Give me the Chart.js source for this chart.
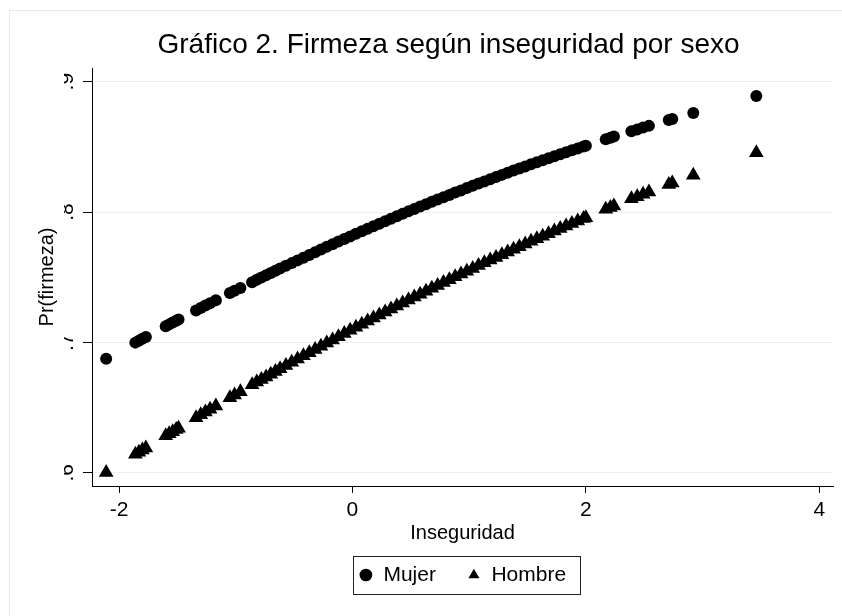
<!DOCTYPE html>
<html>
<head>
<meta charset="utf-8">
<title>Gráfico 2</title>
<script src="https://cdn.jsdelivr.net/npm/chart.js@4.4.1/dist/chart.umd.min.js"></script>
<style>
    html, body { margin: 0; padding: 0; background: #fff; }
    canvas { display: block; }
</style>
</head>
<body>
<canvas id="grafico" width="842" height="616"></canvas>
<script>
/***************************************************************
 * DATOS
 ***************************************************************/
const xInseguridad = [
    -2.11,
    -1.86, -1.83, -1.80, -1.77,
    -1.60, -1.57, -1.54, -1.51, -1.49,
    -1.34, -1.30, -1.26, -1.22, -1.17,
    -1.05, -1.01, -0.96,
    -0.86, -0.82, -0.78, -0.74, -0.70, -0.66, -0.62,
    -0.57, -0.52, -0.47, -0.42, -0.37, -0.32, -0.27, -0.22, -0.17, -0.12,
    -0.07, -0.02, 0.03, 0.08, 0.13, 0.18, 0.23, 0.28, 0.33, 0.38,
    0.43, 0.48, 0.53, 0.58, 0.63, 0.68, 0.73, 0.78, 0.83, 0.88,
    0.93, 0.98, 1.03, 1.08, 1.13, 1.18, 1.23, 1.28, 1.33, 1.38,
    1.43, 1.48, 1.53, 1.58, 1.63, 1.68, 1.73, 1.78, 1.83, 1.88,
    1.93, 1.98, 2.00,
    2.17, 2.21, 2.24,
    2.39, 2.44, 2.49, 2.54,
    2.71, 2.74,
    2.92,
    3.46
];

const prMujer = [
    0.6875,
    0.6998, 0.7013, 0.7027, 0.7042,
    0.7123, 0.7138, 0.7152, 0.7166, 0.7175,
    0.7245, 0.7264, 0.7282, 0.7301, 0.7323,
    0.7378, 0.7396, 0.7418,
    0.7462, 0.7480, 0.7497, 0.7514, 0.7532, 0.7549, 0.7566,
    0.7587, 0.7608, 0.7629, 0.7650, 0.7671, 0.7692, 0.7712, 0.7733, 0.7753, 0.7773,
    0.7793, 0.7813, 0.7833, 0.7853, 0.7872, 0.7891, 0.7910, 0.7930, 0.7949, 0.7967,
    0.7986, 0.8005, 0.8023, 0.8042, 0.8060, 0.8078, 0.8096, 0.8114, 0.8131, 0.8149,
    0.8166, 0.8184, 0.8201, 0.8218, 0.8235, 0.8252, 0.8268, 0.8285, 0.8301, 0.8318,
    0.8334, 0.8350, 0.8366, 0.8381, 0.8397, 0.8413, 0.8428, 0.8443, 0.8459, 0.8474,
    0.8488, 0.8503, 0.8509,
    0.8558, 0.8570, 0.8579,
    0.8620, 0.8634, 0.8648, 0.8661,
    0.8706, 0.8714,
    0.8760,
    0.8890
];

const prHombre = [
    0.6002,
    0.6141, 0.6157, 0.6174, 0.6190,
    0.6283, 0.6299, 0.6315, 0.6331, 0.6342,
    0.6422, 0.6444, 0.6465, 0.6486, 0.6512,
    0.6575, 0.6596, 0.6622,
    0.6674, 0.6695, 0.6715, 0.6735, 0.6756, 0.6776, 0.6797,
    0.6822, 0.6847, 0.6872, 0.6897, 0.6921, 0.6946, 0.6971, 0.6995, 0.7019, 0.7044,
    0.7068, 0.7092, 0.7116, 0.7139, 0.7163, 0.7186, 0.7210, 0.7233, 0.7256, 0.7279,
    0.7302, 0.7325, 0.7348, 0.7370, 0.7393, 0.7415, 0.7437, 0.7459, 0.7481, 0.7503,
    0.7524, 0.7546, 0.7567, 0.7589, 0.7610, 0.7631, 0.7652, 0.7673, 0.7693, 0.7714,
    0.7734, 0.7754, 0.7775, 0.7795, 0.7814, 0.7834, 0.7854, 0.7873, 0.7893, 0.7912,
    0.7931, 0.7950, 0.7957,
    0.8021, 0.8035, 0.8046,
    0.8101, 0.8118, 0.8136, 0.8153,
    0.8212, 0.8222,
    0.8282,
    0.8454
];

const xTicks = [-2, 0, 2, 4];
const xTickLabels = ["-2", "0", "2", "4"];
const yTicks = [0.6, 0.7, 0.8, 0.9];
const yTickLabels = [".6", ".7", ".8", ".9"];

/***************************************************************
 * MARCO + CAJA DE LEYENDA
 ***************************************************************/
const marcoPlugin = {
    id: "marco",
    beforeDraw(chart) {
        const ctx = chart.ctx;
        ctx.save();
        ctx.fillStyle = "#ffffff";
        ctx.fillRect(0, 0, chart.width, chart.height);
        ctx.strokeStyle = "#e3ebeb";
        ctx.lineWidth = 1;
        ctx.strokeRect(9.5, 10.5, chart.width + 20, chart.height + 20);
        ctx.restore();
    },
    afterDraw(chart) {
        const hb = chart.legend.legendHitBoxes;
        if (!hb || !hb.length) return;
        const last = hb[hb.length - 1];
        const cy = hb[0].top + hb[0].height / 2;
        const ctx = chart.ctx;
        ctx.save();
        ctx.strokeStyle = "#222";
        ctx.lineWidth = 1;
        ctx.strokeRect(
            Math.round(hb[0].left - 6) + 0.5,
            Math.round(cy - 19) + 0.5,
            Math.round(last.left + last.width + 14 - (hb[0].left - 6)),
            38
        );
        ctx.restore();
    }
};

/***************************************************************
 * GRÁFICO
 ***************************************************************/
Chart.defaults.font.family = "'Liberation Sans', Arial, sans-serif";
Chart.defaults.color = "#000";

const ctx = document.getElementById("grafico");

new Chart(ctx, {
    type: "scatter",
    data: {
        datasets: [
            {
                label: "Mujer",
                data: xInseguridad.map((x, i) => ({ x: x, y: prMujer[i] })),
                pointStyle: "circle",
                pointRadius: 6,
                pointHoverRadius: 6,
                backgroundColor: "#000",
                borderColor: "#000",
                borderWidth: 0
            },
            {
                label: "Hombre",
                data: xInseguridad.map((x, i) => ({ x: x, y: prHombre[i] })),
                pointStyle: "triangle",
                pointRadius: 8.5,
                pointHoverRadius: 8.5,
                backgroundColor: "#000",
                borderColor: "#000",
                borderWidth: 0
            }
        ]
    },
    options: {
        responsive: false,
        animation: false,
        events: [],
        layout: { padding: { left: 64, right: 9, top: 0, bottom: 20.5 } },
        plugins: {
            title: {
                display: true,
                text: "Gráfico 2. Firmeza según inseguridad por sexo",
                font: { size: 28, weight: "normal" },
                color: "#000",
                padding: { top: 28.2, bottom: 6.2 }
            },
            legend: {
                position: "bottom",
                fullSize: false,
                labels: {
                    usePointStyle: true,
                    boxWidth: 14,
                    boxHeight: 9,
                    padding: 31,
                    font: { size: 21 },
                    color: "#000"
                }
            },
            tooltip: { enabled: false }
        },
        scales: {
            x: {
                type: "linear",
                min: -2.2314,
                max: 4.117,
                afterBuildTicks: axis => { axis.ticks = xTicks.map(v => ({ value: v })); },
                afterFit: axis => { axis.height = 47.5; },
                ticks: {
                    autoSkip: false,
                    maxRotation: 0,
                    padding: 5,
                    font: { size: 21 },
                    callback: (v, i) => xTickLabels[i]
                },
                grid: {
                    drawOnChartArea: false,
                    tickLength: 7,
                    tickColor: "#000"
                },
                border: { display: true, color: "#000", width: 1 },
                title: {
                    display: true,
                    text: "Inseguridad",
                    font: { size: 20 },
                    padding: { top: 0, bottom: -11.5 }
                }
            },
            y: {
                type: "linear",
                min: 0.5898,
                max: 0.9105,
                afterBuildTicks: axis => { axis.ticks = yTicks.map(v => ({ value: v })); },
                afterFit: axis => { axis.width = 28; },
                ticks: {
                    autoSkip: false,
                    minRotation: 90,
                    maxRotation: 90,
                    crossAlign: "center",
                    padding: 7,
                    font: { size: 21 },
                    callback: (v, i) => yTickLabels[i]
                },
                grid: {
                    color: "#e8f0f2",
                    lineWidth: 1,
                    tickLength: 9,
                    tickColor: "#000"
                },
                border: { display: true, color: "#000", width: 1 },
                title: {
                    display: true,
                    text: "Pr(firmeza)",
                    font: { size: 20 },
                    padding: { top: -29, bottom: 0 }
                }
            }
        }
    },
    plugins: [marcoPlugin]
});
</script>
</body>
</html>
